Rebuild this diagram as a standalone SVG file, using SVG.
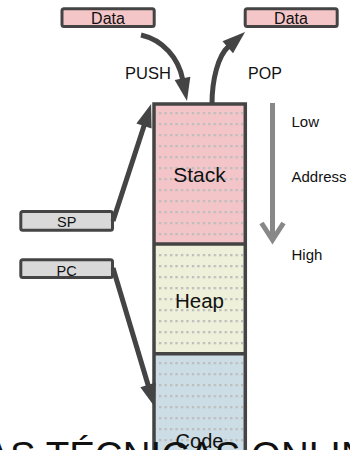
<svg xmlns="http://www.w3.org/2000/svg" width="350" height="450" viewBox="0 0 350 450">
<style>
  text { font-family: "Liberation Sans", Arial, sans-serif; fill: #111; }
  .box { stroke: #444; stroke-width: 3; }
  .data { fill: #f4c6c8; }
  .reg { fill: #d9d9d9; }
  .lbl { font-size: 16px; text-anchor: middle; }
  .reglbl { font-size: 14.5px; text-anchor: middle; }
  .side { font-size: 15px; }
  .seg { font-size: 20.5px; text-anchor: middle; }
  .border { fill: none; stroke: #444; stroke-width: 3.5; }
  .conn { fill: none; stroke: #444; stroke-width: 5; marker-end: url(#head); }
  .wm { font-size: 38.5px; }
</style>
<defs>
  <marker id="head" markerUnits="userSpaceOnUse" markerWidth="24" markerHeight="18" viewBox="0 -9 24 18" refX="0" refY="0" orient="auto" overflow="visible">
    <path d="M-1,-8 L22,0 L-1,8 z" fill="#444"/>
  </marker>
  <pattern id="dotsStack" patternUnits="userSpaceOnUse" x="159" y="112" width="5.47" height="11">
    <rect x="0" y="0" width="2.3" height="2.3" fill="#bdbdbd"/>
  </pattern>
  <pattern id="dotsHeap" patternUnits="userSpaceOnUse" x="159" y="254" width="5.47" height="11">
    <rect x="0" y="0" width="2.3" height="2.3" fill="#bdbdbd"/>
  </pattern>
  <pattern id="dotsCode" patternUnits="userSpaceOnUse" x="159" y="362" width="5.47" height="11">
    <rect x="0" y="0" width="2.3" height="2.3" fill="#bdbdbd"/>
  </pattern>
</defs>

<g id="memory">
  <g id="stack">
    <rect x="154" y="104" width="91.5" height="140" fill="#f4c5c8"/>
    <rect x="156" y="106" width="87.5" height="136" fill="url(#dotsStack)"/>
    <text class="seg" x="199.5" y="181.7" style="font-size:21px">Stack</text>
  </g>
  <g id="heap">
    <rect x="154" y="244" width="91.5" height="110" fill="#eef0d9"/>
    <rect x="156" y="246" width="87.5" height="106" fill="url(#dotsHeap)"/>
    <text class="seg" x="199.5" y="307.5">Heap</text>
  </g>
  <g id="code">
    <rect x="154" y="354" width="91.5" height="110" fill="#cddde5"/>
    <rect x="156" y="356" width="87.5" height="104" fill="url(#dotsCode)"/>
    <text class="seg" x="199.5" y="447.5" style="font-size:20px">Code</text>
  </g>
  <path class="border" d="M154,470 V104 H245.3 V470 M154,244 H245.3 M154,353.7 H245.3"/>
</g>

<g id="data-in">
  <rect class="box data" x="62" y="8.8" width="92.2" height="17.6" rx="2"/>
  <text class="lbl" x="108" y="24.3">Data</text>
</g>
<g id="data-out">
  <rect class="box data" x="245.2" y="8.8" width="92" height="17.6" rx="2"/>
  <text class="lbl" x="291" y="24.3">Data</text>
</g>
<g id="sp">
  <rect class="box reg" x="20.8" y="211.5" width="91.7" height="18.7" rx="2"/>
  <text class="reglbl" x="66.7" y="226.7">SP</text>
</g>
<g id="pc">
  <rect class="box reg" x="20.8" y="259.8" width="91.7" height="17.7" rx="2"/>
  <text class="reglbl" x="66.7" y="276">PC</text>
</g>

<g id="labels">
  <text class="lbl" x="148" y="79.3" style="font-size:16.5px">PUSH</text>
  <text class="lbl" x="265" y="79.3">POP</text>
  <text class="side" x="291.5" y="127.3">Low</text>
  <text class="side" x="291.5" y="181.7">Address</text>
  <text class="side" x="291.5" y="260">High</text>
</g>

<g id="connectors">
  <path class="conn" d="M141,35 C163,40 178.4,57.8 182.7,79.4"/>
  <path class="conn" d="M212,104 C212,80 218,55.7 228.5,46.5"/>
  <path class="conn" d="M113,221 L144.3,125"/>
  <path class="conn" d="M113,268 L148.3,385.8"/>
  <g id="address-arrow" fill="none" stroke="#888" stroke-width="5">
    <path d="M272.5,103 V240"/>
    <path d="M261.5,223 L272.5,240 L283.5,223" stroke-linejoin="miter"/>
  </g>
</g>

<text class="wm" x="-15.7" y="469">AS TÉCNICAS ONLINE</text>
</svg>
